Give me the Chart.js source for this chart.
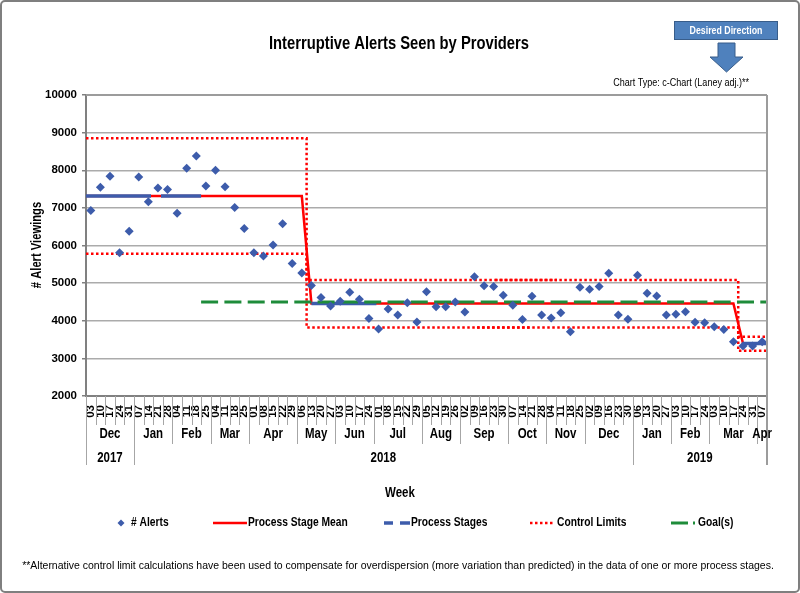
<!DOCTYPE html>
<html>
<head>
<meta charset="utf-8">
<script src="https://cdn.jsdelivr.net/npm/chart.js@4.4.1/dist/chart.umd.min.js"></script>
<style>
  html, body { margin: 0; padding: 0; background: #fff; }
  #wrap { width: 800px; height: 593px; position: relative; }
</style>
</head>
<body>
<div id="wrap"><canvas id="spc-chart"></canvas></div>
<script>
const spcCanvas = document.getElementById("spc-chart");

// week start days (x axis, lowest level)
const weekDays = ["03","10","17","24","31", "07","14","21","28", "04","11","18","25", "04","11","18","25",
  "01","08","15","22","29", "06","13","20","27", "03","10","17","24", "01","08","15","22","29",
  "05","12","19","26", "02","09","16","23","30", "07","14","21","28", "04","11","18","25",
  "02","09","16","23","30", "06","13","20","27", "03","10","17","24", "03","10","17","24","31", "07"];
const months = ["Dec","Jan","Feb","Mar","Apr","May","Jun","Jul","Aug","Sep","Oct","Nov","Dec","Jan","Feb","Mar","Apr"];
const monthWeeks = [5,4,4,4,5,4,4,5,4,5,4,4,5,4,4,5,1];
const years = ["2017","2018","2019"];
const yearWeeks = [5,52,14];

// # alerts per week
const alerts = [6930,7550,7840,5810,6380, 7820,7160,7530,7490, 6860,8050,8380,7580, 8000,7560,7010,6450,
  5810,5720,6010,6580,5520, 5270,4940,4620,4390, 4520,4760,4570,4060, 3780,4310,4150,4480,3970,
  4770,4370,4370,4500, 4230,5170,4930,4910,4680, 4410,4030,4650,4150, 4070,4210,3710,4890,
  4840,4910,5260,4150,4040, 5210,4730,4660,4150, 4170,4240,3960,3950, 3840,3770,3440,3330,3330, 3440];

// process stages (index of first week), mean and limits
const stageStart = [0, 23, 68];
const stageMean = [7315, 4460, 3395];
const stageUCL = [8850, 5085, 3575];
const stageLCL = [5780, 3820, 3200];
const baselineEnd = [11.5, 30.5, 70.5];
const goalValue = 4500;
const goalFrom = 11.5;
// places where the dotted limits overlap and look solid
const uclOverlap = [41.9, 48.6];
const lclOverlap = [40, 46];

const yTicks = [2000,3000,4000,5000,6000,7000,8000,9000,10000];

const lastIdx = weekDays.length - 1;
const FONT = '"Liberation Sans", Arial, sans-serif';
const font = (size, bold) => `${bold ? 'bold ' : ''}${size}px ${FONT}`;
const NARROW = 0.82;   // no narrow face installed, squeeze the text instead

const BLUE = '#3D5CAB';
const RED = '#FF0000';
const GREEN = '#1E8C3A';

// build line data from the stage arrays
let meanPts = [];
let stagePts = [];
stageStart.forEach((s, k) => {
  const from = k === 0 ? -0.5 : s;
  const to = k === stageStart.length - 1 ? lastIdx + 0.5 : stageStart[k + 1] - 1;
  meanPts.push({x: from, y: stageMean[k]}, {x: to, y: stageMean[k]});
  stagePts.push({x: from, y: stageMean[k]}, {x: baselineEnd[k], y: stageMean[k]}, {x: baselineEnd[k], y: null});
});

const stepLine = vals => {
  let pts = [];
  stageStart.forEach((s, k) => {
    const to = k === stageStart.length - 1 ? lastIdx + 0.5 : stageStart[k + 1] - 0.5;
    pts.push({x: s - 0.5, y: vals[k]}, {x: to, y: vals[k]});
  });
  return pts;
};

const lineSet = (label, data, color, width, dash, extra) => Object.assign({
  label: label, data: data, showLine: true, borderColor: color, backgroundColor: color,
  borderWidth: width, borderDash: dash, pointRadius: 0, pointHoverRadius: 0, tension: 0
}, extra || {});

const spcData = {
  datasets: [
    {
      label: '# Alerts',
      data: alerts.map((v, i) => ({x: i, y: v})),
      pointStyle: 'rectRot', pointRadius: 4.5, pointHoverRadius: 4.5,
      backgroundColor: BLUE, borderColor: BLUE, borderWidth: 0, showLine: false
    },
    lineSet('Goal(s)', [{x: goalFrom, y: goalValue}, {x: lastIdx + 0.5, y: goalValue}], GREEN, 3, [17, 6.3]),
    lineSet('Process Stages', stagePts, BLUE, 3.5, [65, 10]),
    lineSet('Process Stage Mean', meanPts, RED, 2.5, []),
    lineSet('Control Limits', stepLine(stageUCL), RED, 2.5, [2.5, 2.5]),
    lineSet('lcl', stepLine(stageLCL), RED, 2.5, [2.5, 2.5]),
    lineSet('ucl overlap', uclOverlap.map(v => ({x: v, y: stageUCL[1]})), RED, 2.5, [2.5, 2.5], {borderDashOffset: 2.5}),
    lineSet('lcl overlap', lclOverlap.map(v => ({x: v, y: stageLCL[1]})), RED, 2.5, [2.5, 2.5], {borderDashOffset: 2.5})
  ]
};

// text, multi level axis, legend and the frame
const line = (ctx, x1, y1, x2, y2) => { ctx.beginPath(); ctx.moveTo(x1, y1); ctx.lineTo(x2, y2); ctx.stroke(); };
const text = (ctx, str, x, y, f, align, sx, color) => {
  ctx.save();
  ctx.translate(x, y);
  ctx.scale(sx || NARROW, 1);
  ctx.font = f; ctx.textAlign = align || 'center'; ctx.textBaseline = 'middle'; ctx.fillStyle = color || '#000';
  ctx.fillText(str, 0, 0);
  ctx.restore();
};

const frameLayer = {
  id: 'frameLayer',
  afterDraw(chart) {
    const { ctx, chartArea: area, scales: { x } } = chart;
    ctx.save();

    // plot frame top + right
    ctx.strokeStyle = '#9C9C9C'; ctx.lineWidth = 2;
    line(ctx, area.left, area.top, area.right, area.top);
    line(ctx, area.right, area.top, area.right, 465);

    // week ticks
    ctx.strokeStyle = '#A6A6A6'; ctx.lineWidth = 1;
    for (let i = 0; i < lastIdx; i++) {
      const px = Math.round(x.getPixelForValue(i + 0.5)) + 0.5;
      line(ctx, px, area.bottom, px, 425);
    }
    // months
    let cum = 0;
    months.forEach((m, k) => {
      const a = x.getPixelForValue(cum - 0.5);
      const b = x.getPixelForValue(cum + monthWeeks[k] - 0.5);
      ctx.strokeStyle = '#A6A6A6'; ctx.lineWidth = 1;
      line(ctx, Math.round(a) + 0.5, area.bottom, Math.round(a) + 0.5, 444);
      text(ctx, m, (a + b) / 2, 434, font(14, true));
      cum += monthWeeks[k];
    });
    // years
    cum = 0;
    years.forEach((yr, k) => {
      const a = x.getPixelForValue(cum - 0.5);
      const b = x.getPixelForValue(cum + yearWeeks[k] - 0.5);
      ctx.strokeStyle = '#A6A6A6'; ctx.lineWidth = 1;
      line(ctx, Math.round(a) + 0.5, area.bottom, Math.round(a) + 0.5, 465);
      text(ctx, yr, (a + b) / 2, 458, font(14, true));
      cum += yearWeeks[k];
    });

    // titles
    text(ctx, 'Interruptive Alerts Seen by Providers', 399, 44, font(18, true));
    text(ctx, 'Week', 400, 493, font(14, true));
    text(ctx, 'Chart Type: c-Chart (Laney adj.)**', 749, 83, font(11, false), 'right');
    ctx.save();
    ctx.translate(37, 245);
    ctx.rotate(-Math.PI / 2);
    text(ctx, '# Alert Viewings', 0, 0, font(14, true), 'center', 0.8);
    ctx.restore();

    // desired direction
    ctx.fillStyle = '#4F81BD'; ctx.strokeStyle = '#385D8A'; ctx.lineWidth = 1;
    ctx.fillRect(674, 21, 104, 19);
    ctx.strokeRect(674.5, 21.5, 103, 18);
    text(ctx, 'Desired Direction', 726, 30.5, font(11, true), 'center', 0.8, '#fff');
    ctx.beginPath();
    ctx.moveTo(718, 43); ctx.lineTo(735, 43); ctx.lineTo(735, 57); ctx.lineTo(743, 57);
    ctx.lineTo(726.5, 72); ctx.lineTo(710, 57); ctx.lineTo(718, 57); ctx.closePath();
    ctx.fillStyle = '#4F81BD'; ctx.fill(); ctx.stroke();

    // legend
    const ly = 523;
    const lf = font(12.5, true);
    ctx.fillStyle = BLUE;
    ctx.beginPath(); ctx.moveTo(121, ly - 3.5); ctx.lineTo(124.5, ly); ctx.lineTo(121, ly + 3.5); ctx.lineTo(117.5, ly); ctx.closePath(); ctx.fill();
    text(ctx, '# Alerts', 131, ly, lf, 'left');
    ctx.strokeStyle = RED; ctx.lineWidth = 2.5; ctx.setLineDash([]);
    line(ctx, 213, ly, 247, ly);
    text(ctx, 'Process Stage Mean', 248, ly, lf, 'left');
    ctx.strokeStyle = BLUE; ctx.lineWidth = 3.5;
    line(ctx, 384, ly, 393, ly); line(ctx, 400, ly, 410, ly);
    text(ctx, 'Process Stages', 411, ly, lf, 'left');
    ctx.strokeStyle = RED; ctx.lineWidth = 2.5; ctx.setLineDash([2.5, 2.5]);
    line(ctx, 530, ly, 555, ly);
    ctx.setLineDash([]);
    text(ctx, 'Control Limits', 557, ly, lf, 'left');
    ctx.strokeStyle = GREEN; ctx.lineWidth = 3;
    line(ctx, 671, ly, 688, ly); line(ctx, 693, ly, 695, ly);
    text(ctx, 'Goal(s)', 698, ly, lf, 'left');

    // footnote
    text(ctx, '**Alternative control limit calculations have been used to compensate for overdispersion (more variation than predicted) in the data of one or more process stages.',
      398, 566, font(11, false), 'center', 0.953);

    // outer border
    ctx.strokeStyle = '#7F7F7F'; ctx.lineWidth = 2;
    ctx.beginPath(); ctx.roundRect(1, 1, 798, 591, 4); ctx.stroke();
    ctx.restore();
  }
};

let spcChart = new Chart(spcCanvas, {
  type: 'scatter',
  data: spcData,
  options: {
    responsive: true,
    maintainAspectRatio: false,
    animation: false,
    events: [],
    layout: { autoPadding: false, padding: { top: 95, right: 33, left: 0, bottom: 0 } },
    plugins: { legend: { display: false }, tooltip: { enabled: false } },
    scales: {
      x: {
        type: 'linear', min: -0.5, max: lastIdx + 0.5,
        afterBuildTicks: scale => { scale.ticks = weekDays.map((d, i) => ({ value: i })); },
        afterFit: scale => { scale.height = 197; },
        ticks: {
          autoSkip: false, maxRotation: 90, minRotation: 90, padding: 1, color: '#000',
          font: { family: FONT, size: 11.5, weight: 'bold' },
          callback: v => weekDays[v]
        },
        grid: { display: false },
        border: { display: true, color: '#808080', width: 2 }
      },
      y: {
        min: 2000, max: 10000,
        afterBuildTicks: scale => { scale.ticks = yTicks.map(v => ({ value: v })); },
        afterFit: scale => { scale.width = 86; },
        ticks: {
          color: '#000', padding: 5, font: { family: FONT, size: 11.5, weight: 'bold' },
          callback: v => String(v)
        },
        grid: { color: '#ABABAB', lineWidth: 1.5, tickLength: 4, tickColor: '#808080', tickWidth: 1.5 },
        border: { display: true, color: '#808080', width: 2 }
      }
    }
  },
  plugins: [frameLayer]
});
</script>
</body>
</html>
